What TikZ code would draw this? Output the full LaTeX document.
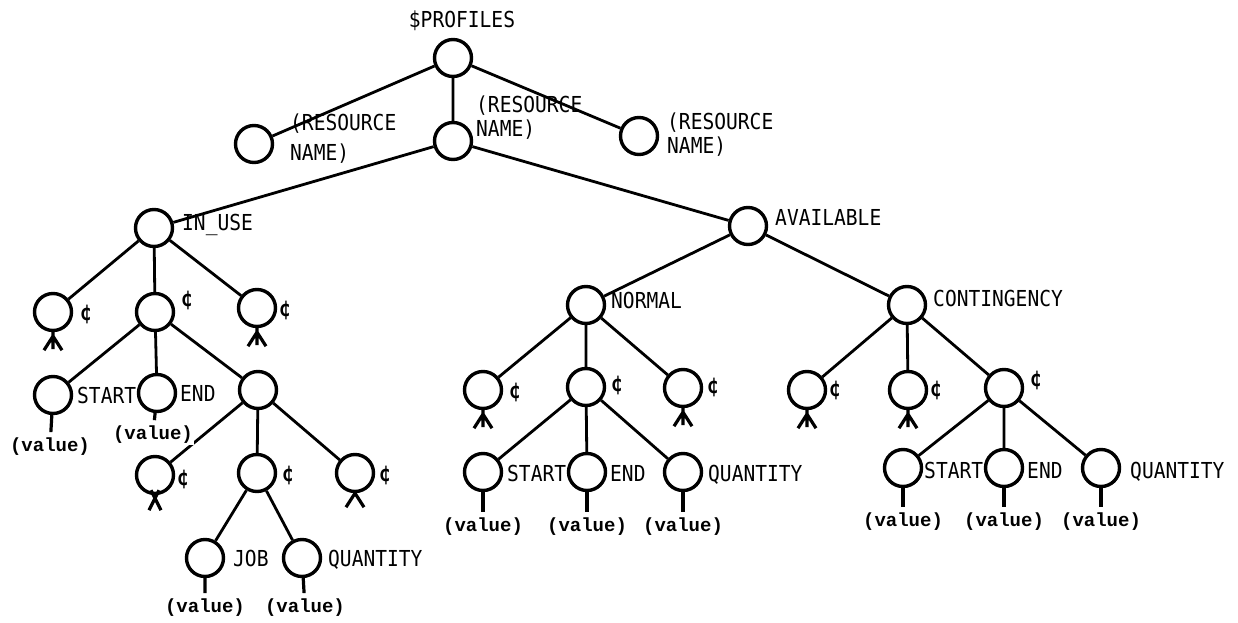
\documentclass[tikz,border=0pt]{standalone}
\usepackage{fontspec}
\usepackage{tikz}
\newfontfamily\tagfont[FakeStretch=0.89]{DejaVu Sans Mono}
\newfontfamily\valfont{Liberation Mono}
\newcommand{\crowfoot}[1]{\draw[fork] (#1.south) -- ++(0,4) coordinate (#1-f) -- ++(-9,14) (#1-f) -- ++(0,13) (#1-f) -- ++(9,14);}

\begin{document}
\begin{tikzpicture}[x=1pt, y=-1pt,
    vertex/.style={draw, circle, line width=3.4pt, minimum size=37pt, inner sep=0pt},
    tag/.style={font=\tagfont\fontsize{22}{24}\selectfont, inner sep=0pt, anchor=west, text height=16pt, text depth=0pt},
    twoline/.style={font=\tagfont\fontsize{22}{24}\selectfont, inner sep=0pt, align=left, anchor=west},
    cent/.style={font=\tagfont\bfseries\fontsize{22}{24}\selectfont, inner sep=0pt, text height=16pt, text depth=0pt},
    val/.style={font=\valfont\bfseries\fontsize{19}{21}\selectfont, fill=white, inner sep=1pt, outer sep=5pt},
    link/.style={line width=2.8pt},
    fork/.style={line width=3.2pt}]
        \useasboundingbox (0,0) rectangle (1238,623);

        % Nodes
        \node[vertex] (root) at (453,58) {};
        \node[vertex] (resA) at (254,144) {};
        \node[vertex] (resB) at (453,141) {};
        \node[vertex] (resC) at (639,136) {};
        \node[vertex] (inuse) at (154,228) {};
        \node[vertex] (avail) at (748,226) {};

        \node[vertex] (iu1) at (53,312) {};
        \node[vertex] (iu2) at (155,312) {};
        \node[vertex] (iu3) at (257,308) {};
        \node[vertex] (iuStart) at (53,395) {};
        \node[vertex] (iuEnd) at (157,393) {};
        \node[vertex] (iuRange) at (258,390) {};
        \node[vertex] (r1) at (155,475) {};
        \node[vertex] (r2) at (257,473) {};
        \node[vertex] (r3) at (355,473) {};
        \node[vertex] (job) at (205,558) {};
        \node[vertex] (qty) at (302,558) {};

        \node[vertex] (normal) at (586,305) {};
        \node[vertex] (n1) at (483,390) {};
        \node[vertex] (n2) at (586,387) {};
        \node[vertex] (n3) at (683,388) {};
        \node[vertex] (nStart) at (483,472) {};
        \node[vertex] (nEnd) at (587,472) {};
        \node[vertex] (nQty) at (683,472) {};

        \node[vertex] (cont) at (907,305) {};
        \node[vertex] (c1) at (807,390) {};
        \node[vertex] (c2) at (908,390) {};
        \node[vertex] (c3) at (1004,388) {};
        \node[vertex] (cStart) at (903,468) {};
        \node[vertex] (cEnd) at (1004,468) {};
        \node[vertex] (cQty) at (1101,468) {};

        % Links
        \draw[link] (root) -- (resA) (root) -- (resB) (root) -- (resC);
        \draw[link] (resB) -- (inuse) (resB) -- (avail);
        \draw[link] (inuse) -- (iu1) (inuse) -- (iu2) (inuse) -- (iu3);
        \draw[link] (iu2) -- (iuStart) (iu2) -- (iuEnd) (iu2) -- (iuRange);
        \draw[link] (iuRange) -- (r1) (iuRange) -- (r2) (iuRange) -- (r3);
        \draw[link] (r2) -- (job) (r2) -- (qty);
        \draw[link] (avail) -- (normal) (avail) -- (cont);
        \draw[link] (normal) -- (n1) (normal) -- (n2) (normal) -- (n3);
        \draw[link] (n2) -- (nStart) (n2) -- (nEnd) (n2) -- (nQty);
        \draw[link] (cont) -- (c1) (cont) -- (c2) (cont) -- (c3);
        \draw[link] (c3) -- (cStart) (c3) -- (cEnd) (c3) -- (cQty);

        % Values
        \node[val] (iuStartv) at (50,447) {(value)};
        \node[val] (iuEndv) at (153,435) {(value)};
        \node[val] (jobv) at (205,608) {(value)};
        \node[val] (qtyv) at (305,608) {(value)};
        \node[val] (nStartv) at (483,527) {(value)};
        \node[val] (nEndv) at (587,527) {(value)};
        \node[val] (nQtyv) at (683,527) {(value)};
        \node[val] (cStartv) at (903,522) {(value)};
        \node[val] (cEndv) at (1004,522) {(value)};
        \node[val] (cQtyv) at (1101,522) {(value)};
        \draw[fork] (iuStart) -- (iuStartv) (iuEnd) -- (iuEndv);
        \draw[fork] (job) -- (jobv) (qty) -- (qtyv);
        \draw[fork] (nStart) -- (nStartv) (nEnd) -- (nEndv) (nQty) -- (nQtyv);
        \draw[fork] (cStart) -- (cStartv) (cEnd) -- (cEndv) (cQty) -- (cQtyv);

        % Forks
        \crowfoot{iu1}
        \crowfoot{iu3}
        \crowfoot{n1}
        \crowfoot{n3}
        \crowfoot{c1}
        \crowfoot{c2}
        \draw[fork] (r1.south) ++(-4,-5) -- ++(10,20) (r1.south) ++(4,-5) -- ++(-10,20);
        \draw[fork] (r3.south) -- ++(-9,14) (r3.south) -- ++(9,14);

        % Labels
        \node[tag, anchor=center] (rootlbl) at (462,20) {\$PROFILES};
        \node[twoline, font=\tagfont\fontsize{22}{30}\selectfont] (resAlbl) at (290,139) {(RESOURCE\\NAME)};
        \node[twoline] (resBlbl) at (476,118) {(RESOURCE\\NAME)};
        \node[twoline] (resClbl) at (667,135) {(RESOURCE\\NAME)};
        \node[tag] (inuselbl) at (182,222) {IN\_USE};
        \node[tag] (availlbl) at (775,217) {AVAILABLE};
        \node[tag] (normallbl) at (611,300) {NORMAL};
        \node[tag] (contlbl) at (933,298) {CONTINGENCY};
        \node[tag] (iuStartlbl) at (77,395) {START};
        \node[tag] (iuEndlbl) at (180,393) {END};
        \node[tag] (joblbl) at (233,558) {JOB};
        \node[tag] (qtylbl) at (328,558) {QUANTITY};
        \node[tag] (nStartlbl) at (507,473) {START};
        \node[tag] (nEndlbl) at (610,473) {END};
        \node[tag] (nQtylbl) at (708,473) {QUANTITY};
        \node[tag] (cStartlbl) at (924,470) {START};
        \node[tag] (cEndlbl) at (1027,470) {END};
        \node[tag] (cQtylbl) at (1130,470) {QUANTITY};

        % Cent marks
        \node[cent] (iu1c) at (86,312) {¢};
        \node[cent] (iu2c) at (187,298) {¢};
        \node[cent] (iu3c) at (285,308) {¢};
        \node[cent] (r1c) at (183,477) {¢};
        \node[cent] (r2c) at (288,473) {¢};
        \node[cent] (r3c) at (385,473) {¢};
        \node[cent] (n1c) at (515,390) {¢};
        \node[cent] (n2c) at (617,383) {¢};
        \node[cent] (n3c) at (713,385) {¢};
        \node[cent] (c1c) at (835,388) {¢};
        \node[cent] (c2c) at (936,388) {¢};
        \node[cent] (c3c) at (1036,378) {¢};
    \end{tikzpicture}
\end{document}
